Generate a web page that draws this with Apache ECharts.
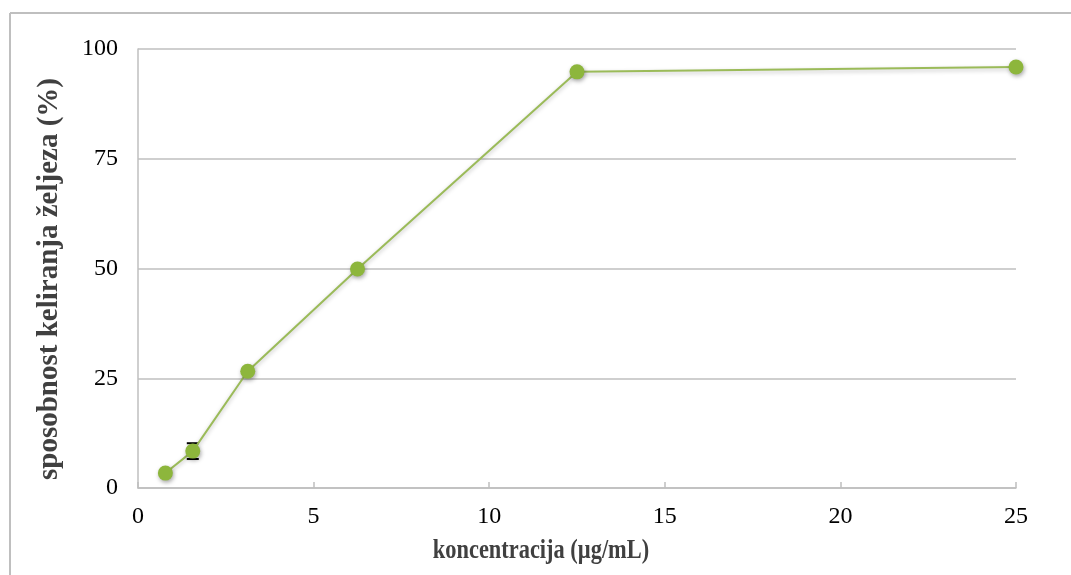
<!DOCTYPE html>
<html>
<head>
<meta charset="utf-8">
<script src="https://cdn.jsdelivr.net/npm/echarts@6/dist/echarts.min.js"></script>
<style>html,body{margin:0;padding:0;background:#fff;}#c{width:1071px;height:575px;}</style>
</head>
<body>
<div id="c"></div>
<script>
var concentrations = [0.78, 1.56, 3.125, 6.25, 12.5, 25];
var chelation = [3.4, 8.4, 26.6, 49.9, 94.8, 95.9];
var errors = [0.6, 1.8, 0.5, 0.4, 0.4, 0.4];
var xTicks = [0, 5, 10, 15, 20, 25];
var yTicks = [0, 25, 50, 75, 100];

var pts = concentrations.map(function (x, i) { return [x, chelation[i]]; });
var errData = concentrations.map(function (x, i) { return [x, chelation[i] - errors[i], chelation[i] + errors[i]]; });

var chart = echarts.init(document.getElementById('c'));
var serif = '"Liberation Serif", "DejaVu Serif", serif';
chart.setOption({
  animation: false,
  backgroundColor: '#fff',
  grid: { left: 138, right: 55, top: 49, bottom: 87 },
  xAxis: {
    type: 'value', min: xTicks[0], max: xTicks[xTicks.length - 1], interval: 5,
    axisLine: { show: true, lineStyle: { color: '#bfbfbf', width: 1.5 } },
    axisTick: { show: true, inside: true, length: 6, lineStyle: { color: '#bfbfbf', width: 1.5 } },
    splitLine: { show: false },
    axisLabel: { color: '#000', fontFamily: serif, fontSize: 24, margin: 17 }
  },
  yAxis: {
    type: 'value', min: yTicks[0], max: yTicks[yTicks.length - 1], interval: 25,
    axisLine: { show: true, lineStyle: { color: '#bfbfbf', width: 1.5 } },
    axisTick: { show: false },
    splitLine: { show: true, lineStyle: { color: '#bfbfbf', width: 1.5 } },
    axisLabel: { color: '#000', fontFamily: serif, fontSize: 24, margin: 20 }
  },
  graphic: [
    { type: 'line', shape: { x1: 10, y1: 13, x2: 1071, y2: 13 }, style: { stroke: '#bfbfbf', lineWidth: 2 } },
    { type: 'line', shape: { x1: 10, y1: 13, x2: 10, y2: 575 }, style: { stroke: '#bfbfbf', lineWidth: 2 } },
    { type: 'text', x: 541, y: 551, scaleX: 0.8, style: { text: 'koncentracija (µg/mL)', font: 'bold 28px ' + serif, fill: '#404040', align: 'center', verticalAlign: 'middle' } },
    { type: 'text', x: 50, y: 279, rotation: Math.PI / 2, style: { text: 'sposobnost keliranja željeza (%)', font: 'bold 29px ' + serif, fill: '#404040', align: 'center', verticalAlign: 'middle' } }
  ],
  series: [
    {
      type: 'custom',
      z: 1,
      data: errData,
      renderItem: function (params, api) {
        var x = api.value(0);
        var lo = api.coord([x, api.value(1)]);
        var hi = api.coord([x, api.value(2)]);
        var w = 6;
        var st = { stroke: '#000', lineWidth: 2 };
        return {
          type: 'group',
          children: [
            { type: 'line', shape: { x1: lo[0], y1: lo[1], x2: hi[0], y2: hi[1] }, style: st },
            { type: 'line', shape: { x1: lo[0] - w, y1: lo[1], x2: lo[0] + w, y2: lo[1] }, style: st },
            { type: 'line', shape: { x1: hi[0] - w, y1: hi[1], x2: hi[0] + w, y2: hi[1] }, style: st }
          ]
        };
      }
    },
    {
      type: 'line',
      z: 3,
      data: pts,
      symbol: 'circle',
      symbolSize: 15,
      lineStyle: { color: '#9bbb59', width: 2, shadowBlur: 4, shadowColor: 'rgba(0,0,0,0.25)', shadowOffsetY: 2 },
      itemStyle: { color: '#8db63c', shadowBlur: 4, shadowColor: 'rgba(0,0,0,0.35)', shadowOffsetX: 1, shadowOffsetY: 2 }
    }
  ]
});
</script>
</body>
</html>
